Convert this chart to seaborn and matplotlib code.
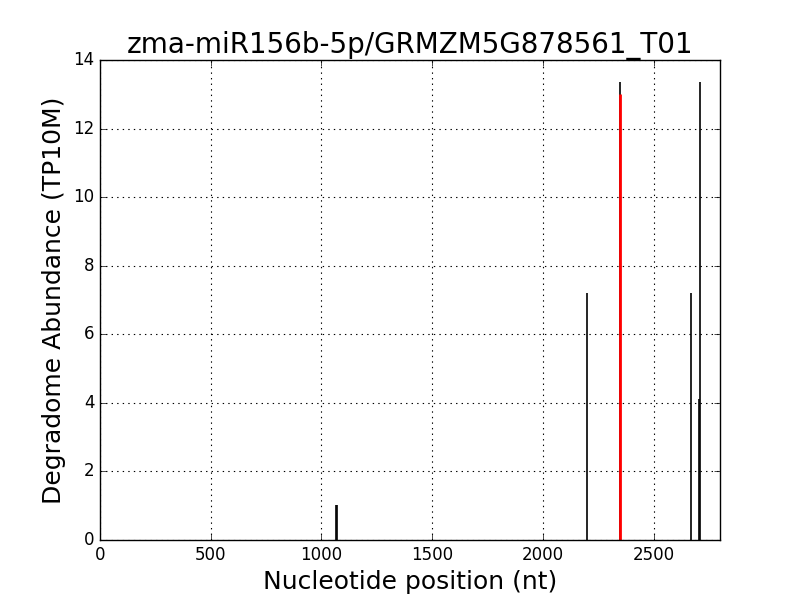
import matplotlib
matplotlib.use("Agg")
import matplotlib.pyplot as plt
import seaborn as sns

# degradome tags (position, abundance)
positions = [1067, 1069, 2199, 2348, 2669, 2703, 2711]
abundance = [1.03, 1.03, 7.19, 13.36, 7.19, 4.11, 13.36]
# predicted cleavage site
site_pos = [2348]
site_abund = [13.0]

title = "zma-miR156b-5p/GRMZM5G878561_T01"

plt.style.use("classic")
sns.set_style("ticks", {"axes.facecolor": "white", "figure.facecolor": "white",
                        "xtick.direction": "in", "ytick.direction": "in",
                        "axes.edgecolor": "black", "text.color": "black",
                        "axes.labelcolor": "black", "xtick.color": "black",
                        "ytick.color": "black"})
plt.rcParams["font.family"] = ["DejaVu Sans"]

fig, ax = plt.subplots(figsize=(8, 6), dpi=100)
fig.subplots_adjust(left=0.125, right=0.9, bottom=0.1, top=0.9)

ax.vlines(positions, 0, abundance, colors="black", linewidth=1.2)
ax.vlines(site_pos, 0, site_abund, colors="red", linewidth=2)

ax.set_xlim(0, 2800)
ax.set_ylim(0, 14)
ax.set_xticks(range(0, 3000, 500))
ax.set_yticks(range(0, 16, 2))
ax.tick_params(direction="in", top=True, right=True, labelsize=12, length=4,
               colors="black")
ax.grid(True, color="black", linestyle=":", linewidth=0.8)
ax.set_axisbelow(True)
for s in ax.spines.values():
    s.set_visible(True)
    s.set_color("black")
    s.set_linewidth(1)

ax.set_title(title, fontsize=20, color="black")
ax.set_xlabel("Nucleotide position (nt)", fontsize=18, color="black")
ax.set_ylabel("Degradome Abundance (TP10M)", fontsize=18, color="black")

fig.savefig("out.png", dpi=100, facecolor="white")
